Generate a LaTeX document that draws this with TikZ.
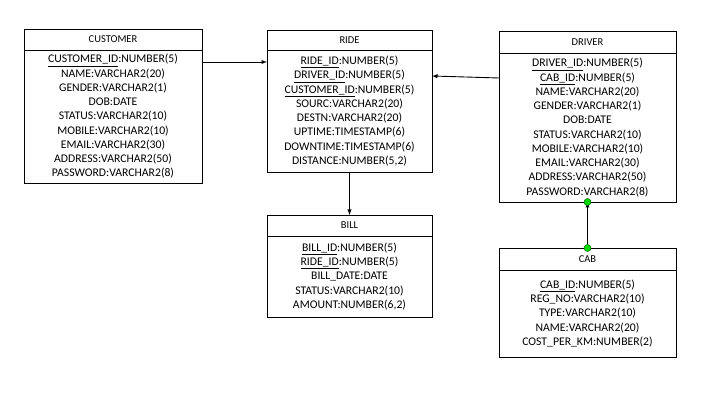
\documentclass[tikz,border=0pt]{standalone}
\usepackage{fontspec}
\setmainfont{Carlito}
\usetikzlibrary{arrows.meta,positioning}

\begin{document}
\begin{tikzpicture}[
    x=1pt, y=-1pt,
    >=latex,
    line width=0.9pt,
    head/.style={
        draw=black,
        minimum height=21pt,
        outer sep=0pt,
        inner sep=0pt,
        font=\fontsize{10.5}{12}\selectfont
    },
    attrs/.style={
        draw=black,
        outer sep=0pt,
        inner sep=0pt,
        align=center,
        font=\fontsize{11.7}{14.25}\selectfont
    },
    keydot/.style={
        circle,
        fill=green!85!black,
        draw=green!40!black,
        line width=0.5pt,
        minimum size=7pt,
        inner sep=0pt
    }
]

\useasboundingbox (0,0) rectangle (710,406);

% Tabelle
\node[head, minimum width=178pt] (cust) at (113,39.5) {CUSTOMER};
\node[attrs, minimum width=178pt, minimum height=133pt, below=0pt of cust] (custattr) {\underline{CUSTOMER\_ID}:NUMBER(5)\\ NAME:VARCHAR2(20)\\ GENDER:VARCHAR2(1)\\ DOB:DATE\\ STATUS:VARCHAR2(10)\\ MOBILE:VARCHAR2(10)\\ EMAIL:VARCHAR2(30)\\ ADDRESS:VARCHAR2(50)\\ PASSWORD:VARCHAR2(8)};

\node[head, minimum width=165pt, minimum height=20pt] (ride) at (349.5,40) {RIDE};
\node[attrs, minimum width=165pt, minimum height=122pt, below=0pt of ride] (rideattr) {\underline{RIDE\_ID}:NUMBER(5)\\ \underline{DRIVER\_ID}:NUMBER(5)\\ \underline{CUSTOMER\_ID}:NUMBER(5)\\ SOURC:VARCHAR2(20)\\ DESTN:VARCHAR2(20)\\ UPTIME:TIMESTAMP(6)\\ DOWNTIME:TIMESTAMP(6)\\ DISTANCE:NUMBER(5,2)};

\node[head, minimum width=177pt, minimum height=22pt] (drv) at (587.5,42) {DRIVER};
\node[attrs, minimum width=177pt, minimum height=149pt, below=0pt of drv] (drvattr) {\underline{DRIVER\_ID}:NUMBER(5)\\ \underline{CAB\_ID}:NUMBER(5)\\ NAME:VARCHAR2(20)\\ GENDER:VARCHAR2(1)\\ DOB:DATE\\ STATUS:VARCHAR2(10)\\ MOBILE:VARCHAR2(10)\\ EMAIL:VARCHAR2(30)\\ ADDRESS:VARCHAR2(50)\\ PASSWORD:VARCHAR2(8)};

\node[head, minimum width=165pt] (bill) at (349.5,225.5) {BILL};
\node[attrs, minimum width=165pt, minimum height=81pt, below=0pt of bill] (billattr) {\underline{BILL\_ID}:NUMBER(5)\\ \underline{RIDE\_ID}:NUMBER(5)\\ BILL\_DATE:DATE\\ STATUS:VARCHAR2(10)\\ AMOUNT:NUMBER(6,2)};

\node[head, minimum width=177pt, minimum height=22pt] (cab) at (587.5,259) {CAB};
\node[attrs, minimum width=177pt, minimum height=87pt, below=0pt of cab] (cabattr) {\underline{CAB\_ID}:NUMBER(5)\\ REG\_NO:VARCHAR2(10)\\ TYPE:VARCHAR2(10)\\ NAME:VARCHAR2(20)\\ COST\_PER\_KM:NUMBER(2)};

% Collegamenti
\draw[->] ([yshift=-12pt]custattr.north east) -- ([yshift=-12pt]rideattr.north west);
\draw[->] ([yshift=-25pt]drvattr.north west) -- ([yshift=-26pt]rideattr.north east);
\draw[->] (rideattr.south) -- (bill.north);
\draw[->] (cab.north) -- (drvattr.south);

% Punti verdi (CAB - DRIVER)
\node[keydot] at (drvattr.south) {};
\node[keydot] at (cab.north) {};

\end{tikzpicture}
\end{document}
